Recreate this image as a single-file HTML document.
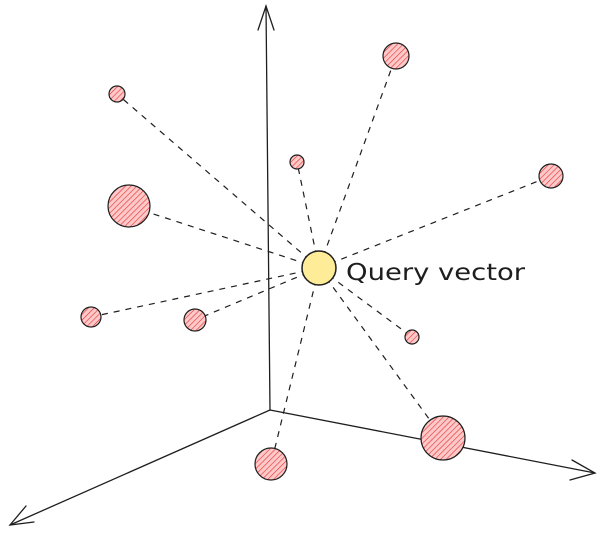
<!DOCTYPE html>
<html><head><style>body{margin:0;background:#fff}svg{display:block}</style></head>
<body>
<svg width="604" height="541" viewBox="0 0 604 541" xmlns="http://www.w3.org/2000/svg">
<defs>
<pattern id="h" width="4" height="4" patternUnits="userSpaceOnUse" patternTransform="rotate(45)">
<rect width="4" height="4" fill="#ffc9c9"/>
<line x1="0" y1="0" x2="0" y2="4" stroke="#e03131" stroke-width="1.2"/>
</pattern>
</defs>
<g stroke="#1e1e1e" stroke-width="1.3" fill="none" stroke-linecap="round">
<line x1="270" y1="410" x2="266" y2="6"/>
<polyline points="258,30 266,6 274,30"/>
<line x1="270" y1="410" x2="10" y2="525"/>
<polyline points="26,506 10,525 34,522"/>
<line x1="270" y1="410" x2="595" y2="473"/>
<polyline points="572,460 595,473 570,480"/>
</g>
<g stroke="#1e1e1e" stroke-width="1.2" stroke-dasharray="6 6" fill="none">
<line x1="319" y1="268" x2="396" y2="56"/>
<line x1="319" y1="268" x2="117" y2="94"/>
<line x1="319" y1="268" x2="297" y2="162"/>
<line x1="319" y1="268" x2="551" y2="176"/>
<line x1="319" y1="268" x2="129" y2="206"/>
<line x1="319" y1="268" x2="91" y2="317"/>
<line x1="319" y1="268" x2="195" y2="320"/>
<line x1="319" y1="268" x2="412" y2="337"/>
<line x1="319" y1="268" x2="443" y2="438"/>
<line x1="319" y1="268" x2="271" y2="464"/>
</g>
<g stroke="#1e1e1e" stroke-width="1.2">
<g fill="url(#h)">
<circle cx="396" cy="56" r="13"/>
<circle cx="117" cy="94" r="8"/>
<circle cx="297" cy="162" r="7"/>
<circle cx="551" cy="176" r="12"/>
<circle cx="129" cy="206" r="21"/>
<circle cx="91" cy="317" r="10"/>
<circle cx="195" cy="320" r="11"/>
<circle cx="412" cy="337" r="7"/>
<circle cx="443" cy="438" r="22"/>
<circle cx="271" cy="464" r="16"/>
</g>
<circle cx="319" cy="268" r="17" fill="#ffec99" stroke-width="1.5"/>
</g>
<text x="346" y="280" font-family="DejaVu Sans, sans-serif" font-size="23" fill="#1e1e1e" textLength="179" lengthAdjust="spacingAndGlyphs">Query vector</text>
</svg>
</body></html>
